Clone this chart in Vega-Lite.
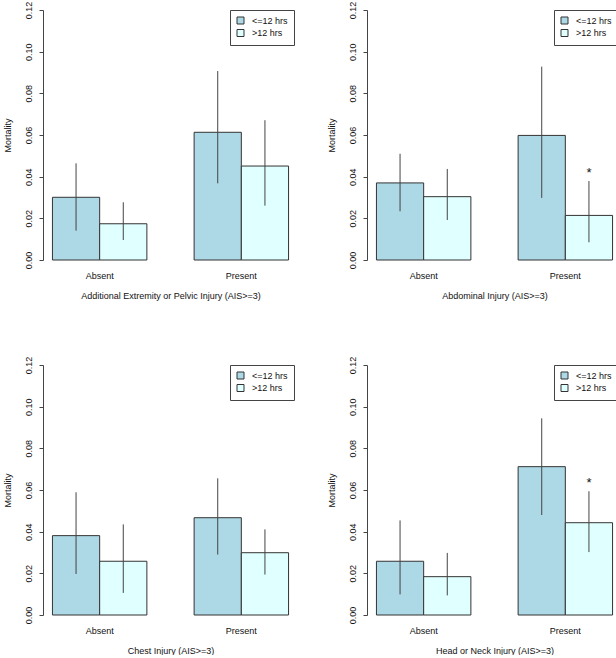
{
  "$schema": "https://vega.github.io/schema/vega-lite/v6.json",
  "background": "white",
  "padding": {"left": 3, "top": 1, "right": 0, "bottom": 0},
  "columns": 2,
  "spacing": {"column": 29, "row": 56},
  "config": {
    "font": "Liberation Sans",
    "view": {"stroke": null},
    "axis": {"grid": false, "labelFont": "Liberation Sans", "titleFont": "Liberation Sans", "labelFontSize": 9, "titleFontSize": 9, "titleFontWeight": "normal", "labelColor": "#111", "titleColor": "#111"},
    "axisX": {"domain": false, "ticks": false, "tickSize": 0, "labelAngle": 0, "labelPadding": 11, "titlePadding": 11},
    "axisY": {"domain": true, "domainColor": "#444", "tickColor": "#444", "tickSize": 4, "labelAngle": 270, "labelPadding": 6, "titlePadding": 12, "values": [0, 0.02, 0.04, 0.06, 0.08, 0.1, 0.12], "format": ".2f"},
    "legend": {"orient": "none", "legendX": 187, "legendY": 0, "strokeColor": "#444", "fillColor": "white", "padding": 6, "symbolType": "square", "symbolSize": 49, "symbolStrokeColor": "#333", "symbolStrokeWidth": 1, "labelFontSize": 9, "labelFont": "Liberation Sans", "labelOffset": 7, "rowPadding": 1.5, "labelColor": "#111"}
  },
  "data": {"values": [
    {"injury": "A", "group": "Absent", "time": "<=12 hrs", "mortality": 0.0301, "lower": 0.0141, "upper": 0.0464, "sig": ""},
    {"injury": "A", "group": "Absent", "time": ">12 hrs", "mortality": 0.0174, "lower": 0.0096, "upper": 0.0277, "sig": ""},
    {"injury": "A", "group": "Present", "time": "<=12 hrs", "mortality": 0.0613, "lower": 0.0368, "upper": 0.0907, "sig": ""},
    {"injury": "A", "group": "Present", "time": ">12 hrs", "mortality": 0.0451, "lower": 0.0261, "upper": 0.0671, "sig": ""},
    {"injury": "B", "group": "Absent", "time": "<=12 hrs", "mortality": 0.0370, "lower": 0.0234, "upper": 0.0510, "sig": ""},
    {"injury": "B", "group": "Absent", "time": ">12 hrs", "mortality": 0.0304, "lower": 0.0192, "upper": 0.0437, "sig": ""},
    {"injury": "B", "group": "Present", "time": "<=12 hrs", "mortality": 0.0598, "lower": 0.0298, "upper": 0.0928, "sig": ""},
    {"injury": "B", "group": "Present", "time": ">12 hrs", "mortality": 0.0214, "lower": 0.0085, "upper": 0.0379, "sig": "*"},
    {"injury": "C", "group": "Absent", "time": "<=12 hrs", "mortality": 0.0381, "lower": 0.0197, "upper": 0.0589, "sig": ""},
    {"injury": "C", "group": "Absent", "time": ">12 hrs", "mortality": 0.0258, "lower": 0.0106, "upper": 0.0435, "sig": ""},
    {"injury": "C", "group": "Present", "time": "<=12 hrs", "mortality": 0.0467, "lower": 0.0290, "upper": 0.0656, "sig": ""},
    {"injury": "C", "group": "Present", "time": ">12 hrs", "mortality": 0.0299, "lower": 0.0194, "upper": 0.0411, "sig": ""},
    {"injury": "D", "group": "Absent", "time": "<=12 hrs", "mortality": 0.0258, "lower": 0.0099, "upper": 0.0454, "sig": ""},
    {"injury": "D", "group": "Absent", "time": ">12 hrs", "mortality": 0.0184, "lower": 0.0094, "upper": 0.0298, "sig": ""},
    {"injury": "D", "group": "Present", "time": "<=12 hrs", "mortality": 0.0712, "lower": 0.0480, "upper": 0.0944, "sig": ""},
    {"injury": "D", "group": "Present", "time": ">12 hrs", "mortality": 0.0443, "lower": 0.0302, "upper": 0.0594, "sig": "*"}
  ]},
  "resolve": {"scale": {"x": "independent", "y": "independent", "xOffset": "independent", "color": "independent"}, "legend": {"color": "independent"}},
  "concat": [
    {
      "width": 255, "height": 250,
      "transform": [{"filter": "datum.injury == 'A'"}],
      "encoding": {
        "x": {"field": "group", "type": "nominal", "scale": {"paddingInner": 0.33333, "paddingOuter": 0.06667}, "axis": {"title": "Additional Extremity or Pelvic Injury (AIS>=3)"}},
        "xOffset": {"field": "time", "type": "nominal", "sort": ["<=12 hrs", ">12 hrs"], "scale": {"paddingInner": 0, "paddingOuter": 0}}
      },
      "layer": [
        {"mark": {"type": "bar", "stroke": "#333", "strokeWidth": 1}, "encoding": {"y": {"field": "mortality", "type": "quantitative", "title": "Mortality", "scale": {"domain": [0, 0.12]}}, "color": {"field": "time", "type": "nominal", "sort": ["<=12 hrs", ">12 hrs"], "scale": {"range": ["#ADD8E6", "#E0FFFF"]}, "legend": {"title": null}}}},
        {"mark": {"type": "rule", "color": "#444", "strokeWidth": 1}, "encoding": {"y": {"field": "lower", "type": "quantitative", "title": "Mortality"}, "y2": {"field": "upper"}}},
        {"mark": {"type": "text", "dy": -8, "fontSize": 13, "baseline": "middle", "color": "#111"}, "encoding": {"y": {"field": "upper", "type": "quantitative", "title": "Mortality"}, "text": {"field": "sig"}}}
      ]
    },
    {
      "width": 250, "height": 250,
      "transform": [{"filter": "datum.injury == 'B'"}],
      "encoding": {
        "x": {"field": "group", "type": "nominal", "scale": {"range": [0, 255], "paddingInner": 0.33333, "paddingOuter": 0.06667}, "axis": {"title": "Abdominal Injury (AIS>=3)"}},
        "xOffset": {"field": "time", "type": "nominal", "sort": ["<=12 hrs", ">12 hrs"], "scale": {"paddingInner": 0, "paddingOuter": 0}}
      },
      "layer": [
        {"mark": {"type": "bar", "stroke": "#333", "strokeWidth": 1}, "encoding": {"y": {"field": "mortality", "type": "quantitative", "title": "Mortality", "scale": {"domain": [0, 0.12]}}, "color": {"field": "time", "type": "nominal", "sort": ["<=12 hrs", ">12 hrs"], "scale": {"range": ["#ADD8E6", "#E0FFFF"]}, "legend": {"title": null}}}},
        {"mark": {"type": "rule", "color": "#444", "strokeWidth": 1}, "encoding": {"y": {"field": "lower", "type": "quantitative", "title": "Mortality"}, "y2": {"field": "upper"}}},
        {"mark": {"type": "text", "dy": -8, "fontSize": 13, "baseline": "middle", "color": "#111"}, "encoding": {"y": {"field": "upper", "type": "quantitative", "title": "Mortality"}, "text": {"field": "sig"}}}
      ]
    },
    {
      "width": 255, "height": 250,
      "transform": [{"filter": "datum.injury == 'C'"}],
      "encoding": {
        "x": {"field": "group", "type": "nominal", "scale": {"paddingInner": 0.33333, "paddingOuter": 0.06667}, "axis": {"title": "Chest Injury (AIS>=3)"}},
        "xOffset": {"field": "time", "type": "nominal", "sort": ["<=12 hrs", ">12 hrs"], "scale": {"paddingInner": 0, "paddingOuter": 0}}
      },
      "layer": [
        {"mark": {"type": "bar", "stroke": "#333", "strokeWidth": 1}, "encoding": {"y": {"field": "mortality", "type": "quantitative", "title": "Mortality", "scale": {"domain": [0, 0.12]}}, "color": {"field": "time", "type": "nominal", "sort": ["<=12 hrs", ">12 hrs"], "scale": {"range": ["#ADD8E6", "#E0FFFF"]}, "legend": {"title": null}}}},
        {"mark": {"type": "rule", "color": "#444", "strokeWidth": 1}, "encoding": {"y": {"field": "lower", "type": "quantitative", "title": "Mortality"}, "y2": {"field": "upper"}}},
        {"mark": {"type": "text", "dy": -8, "fontSize": 13, "baseline": "middle", "color": "#111"}, "encoding": {"y": {"field": "upper", "type": "quantitative", "title": "Mortality"}, "text": {"field": "sig"}}}
      ]
    },
    {
      "width": 250, "height": 250,
      "transform": [{"filter": "datum.injury == 'D'"}],
      "encoding": {
        "x": {"field": "group", "type": "nominal", "scale": {"range": [0, 255], "paddingInner": 0.33333, "paddingOuter": 0.06667}, "axis": {"title": "Head or Neck Injury (AIS>=3)"}},
        "xOffset": {"field": "time", "type": "nominal", "sort": ["<=12 hrs", ">12 hrs"], "scale": {"paddingInner": 0, "paddingOuter": 0}}
      },
      "layer": [
        {"mark": {"type": "bar", "stroke": "#333", "strokeWidth": 1}, "encoding": {"y": {"field": "mortality", "type": "quantitative", "title": "Mortality", "scale": {"domain": [0, 0.12]}}, "color": {"field": "time", "type": "nominal", "sort": ["<=12 hrs", ">12 hrs"], "scale": {"range": ["#ADD8E6", "#E0FFFF"]}, "legend": {"title": null}}}},
        {"mark": {"type": "rule", "color": "#444", "strokeWidth": 1}, "encoding": {"y": {"field": "lower", "type": "quantitative", "title": "Mortality"}, "y2": {"field": "upper"}}},
        {"mark": {"type": "text", "dy": -8, "fontSize": 13, "baseline": "middle", "color": "#111"}, "encoding": {"y": {"field": "upper", "type": "quantitative", "title": "Mortality"}, "text": {"field": "sig"}}}
      ]
    }
  ]
}
